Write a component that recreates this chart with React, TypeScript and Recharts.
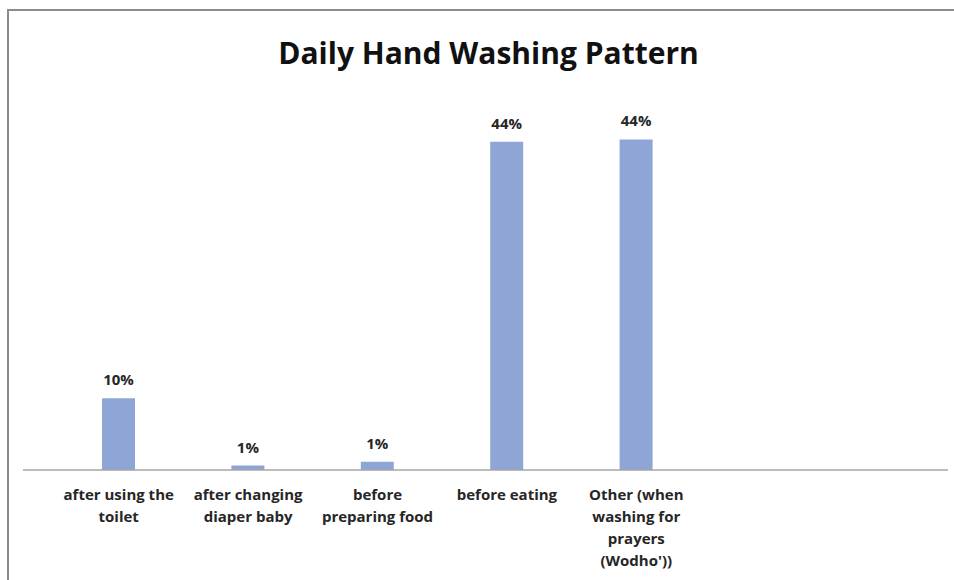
import { Bar, BarChart, LabelList, XAxis, YAxis } from "recharts";

const CATEGORIES = [
  "after using the toilet",
  "after changing diaper baby",
  "before preparing food",
  "before eating",
  "Other (when washing for prayers (Wodho'))",
];
const TICK_LINES: Record<string, string[]> = {
  "after using the toilet": ["after using the", "toilet"],
  "after changing diaper baby": ["after changing", "diaper baby"],
  "before preparing food": ["before", "preparing food"],
  "before eating": ["before eating"],
  "Other (when washing for prayers (Wodho'))": ["Other (when", "washing for", "prayers", "(Wodho'))"],
};
const SHARES = [9.6, 0.6, 1.1, 43.9, 44.2];

const FONT = "'Open Sans', 'Liberation Sans', sans-serif";
const BAR_COLOR = "#8ea5d5";

const data = CATEGORIES.map((name, i) => ({ name, share: SHARES[i] }));

function CategoryTick(props: any) {
  const { x, y, payload } = props;
  const lines = TICK_LINES[payload.value] ?? [payload.value];
  return (
    <g transform={`translate(${x},${y})`}>
      {lines.map((line, i) => (
        <text
          key={i}
          x={0}
          y={22 + i * 22}
          textAnchor="middle"
          fill="#262626"
          fontFamily={FONT}
          fontSize={15}
          fontWeight={700}
        >
          {line}
        </text>
      ))}
    </g>
  );
}

export default function App() {
  return (
    <div
      style={{
        position: "absolute",
        left: 7,
        top: 9,
        width: 947,
        height: 571,
        borderLeft: "2px solid #8c8c8c",
        borderTop: "2px solid #8c8c8c",
        background: "#fff",
      }}
    >
      <div
        style={{
          position: "absolute",
          left: 6,
          top: 21,
          width: 947,
          textAlign: "center",
          fontFamily: FONT,
          fontWeight: 700,
          fontSize: 30,
          color: "#111",
          pointerEvents: "none",
        }}
      >
        Daily Hand Washing Pattern
      </div>
      <BarChart
        width={945}
        height={569}
        data={data}
        margin={{ top: 85, right: 6, bottom: 0, left: 14 }}
        barSize={33}
      >
        <XAxis
          dataKey="name"
          interval={0}
          height={110}
          tickLine={false}
          axisLine={{ stroke: "#a6a6a6", strokeWidth: 1.5 }}
          padding={{ left: 31, right: 247 }}
          tick={<CategoryTick />}
        />
        <YAxis hide domain={[0, 50]} />
        <Bar dataKey="share" fill={BAR_COLOR} isAnimationActive={false}>
          <LabelList
            dataKey="share"
            position="top"
            offset={13}
            formatter={(v: number) => `${Math.round(v)}%`}
            style={{ fontFamily: FONT, fontSize: 15, fontWeight: 700, fill: "#262626" }}
          />
        </Bar>
      </BarChart>
    </div>
  );
}
